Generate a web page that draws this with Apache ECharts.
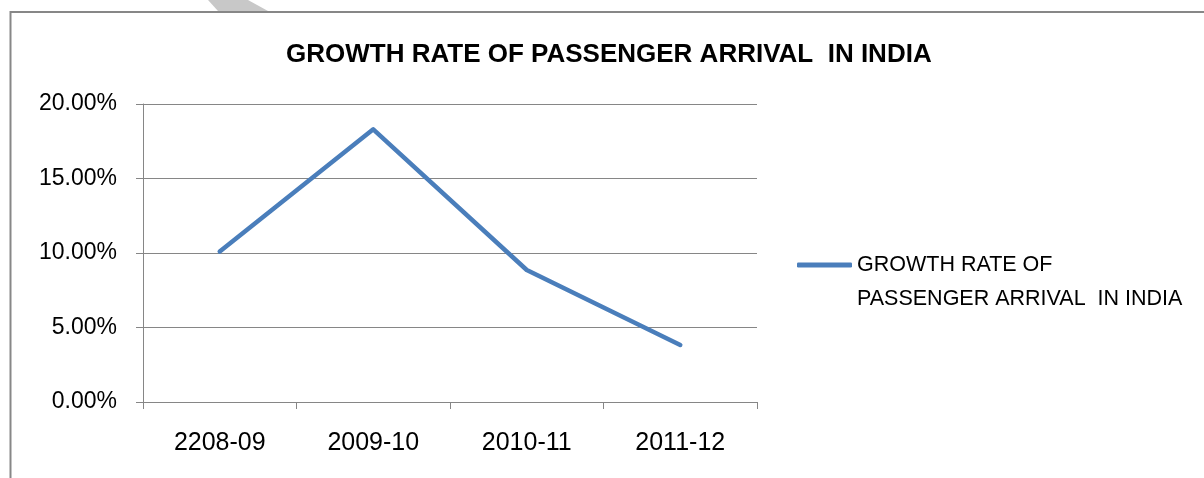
<!DOCTYPE html>
<html>
<head>
<meta charset="utf-8">
<script src="https://cdn.jsdelivr.net/npm/echarts@6/dist/echarts.min.js"></script>
<style>
html,body{margin:0;padding:0;background:#fff;}
#chart{width:1204px;height:478px;}
</style>
</head>
<body>
<div id="chart"></div>
<script>
const categories = ['2208-09', '2009-10', '2010-11', '2011-12'];
const growthRate = [10.1, 18.3, 8.86, 3.83];
const seriesName = 'GROWTH RATE OF PASSENGER ARRIVAL  IN INDIA';
const legendLines = ['GROWTH RATE OF', 'PASSENGER ARRIVAL  IN INDIA'];
const titleText = 'GROWTH RATE OF PASSENGER ARRIVAL  IN INDIA';

const chart = echarts.init(document.getElementById('chart'), null, {renderer: 'canvas'});
const gray = '#868686';
const font = '"Liberation Sans", Arial, sans-serif';

chart.setOption({
  animation: false,
  backgroundColor: '#fff',
  title: {
    text: titleText,
    left: 286,
    top: 42,
    padding: 0,
    textStyle: {fontFamily: font, fontWeight: 'bold', fontSize: 26, color: '#000'}
  },
  legend: {
    left: 797,
    top: 214,
    padding: 0,
    itemWidth: 55,
    itemHeight: 5,
    itemGap: 0,
    icon: 'roundRect',
    itemStyle: {color: '#4A7EBB'},
    formatter: () => ' \n' + legendLines.join('\n'),
    textStyle: {fontFamily: font, fontSize: 21.5, color: '#000', lineHeight: 34},
    data: [seriesName]
  },
  grid: {left: 143, right: 447, top: 104, bottom: 76, containLabel: false},
  xAxis: {
    type: 'category',
    data: categories,
    boundaryGap: true,
    axisLine: {lineStyle: {color: gray, width: 1}},
    axisTick: {show: true, length: 7, lineStyle: {color: gray}},
    axisLabel: {fontFamily: font, fontSize: 25, color: '#000', margin: 29}
  },
  yAxis: {
    type: 'value',
    min: 0, max: 20, interval: 5,
    axisLine: {show: true, lineStyle: {color: gray, width: 1}},
    axisTick: {show: true, length: 7, lineStyle: {color: gray}},
    splitLine: {show: true, lineStyle: {color: gray, width: 1}},
    axisLabel: {fontFamily: font, fontSize: 23, color: '#000', margin: 26,
      formatter: v => v.toFixed(2) + '%'}
  },
  series: [{
    name: seriesName,
    type: 'line',
    data: growthRate,
    symbol: 'none',
    lineStyle: {color: '#4A7EBB', width: 4.5, cap: 'round', join: 'round'},
    itemStyle: {color: '#4A7EBB'}
  }],
  graphic: [
    {type: 'rect', shape: {x: 10.5, y: 12, width: 1400, height: 1000},
     style: {fill: null, stroke: '#878787', lineWidth: 2}, silent: true, z: -1},
    {type: 'polygon', shape: {points: [[208, 0], [248, 0], [268, 11], [218, 11]]},
     style: {fill: '#c8c8c8'}, silent: true}
  ]
});
</script>
</body>
</html>
